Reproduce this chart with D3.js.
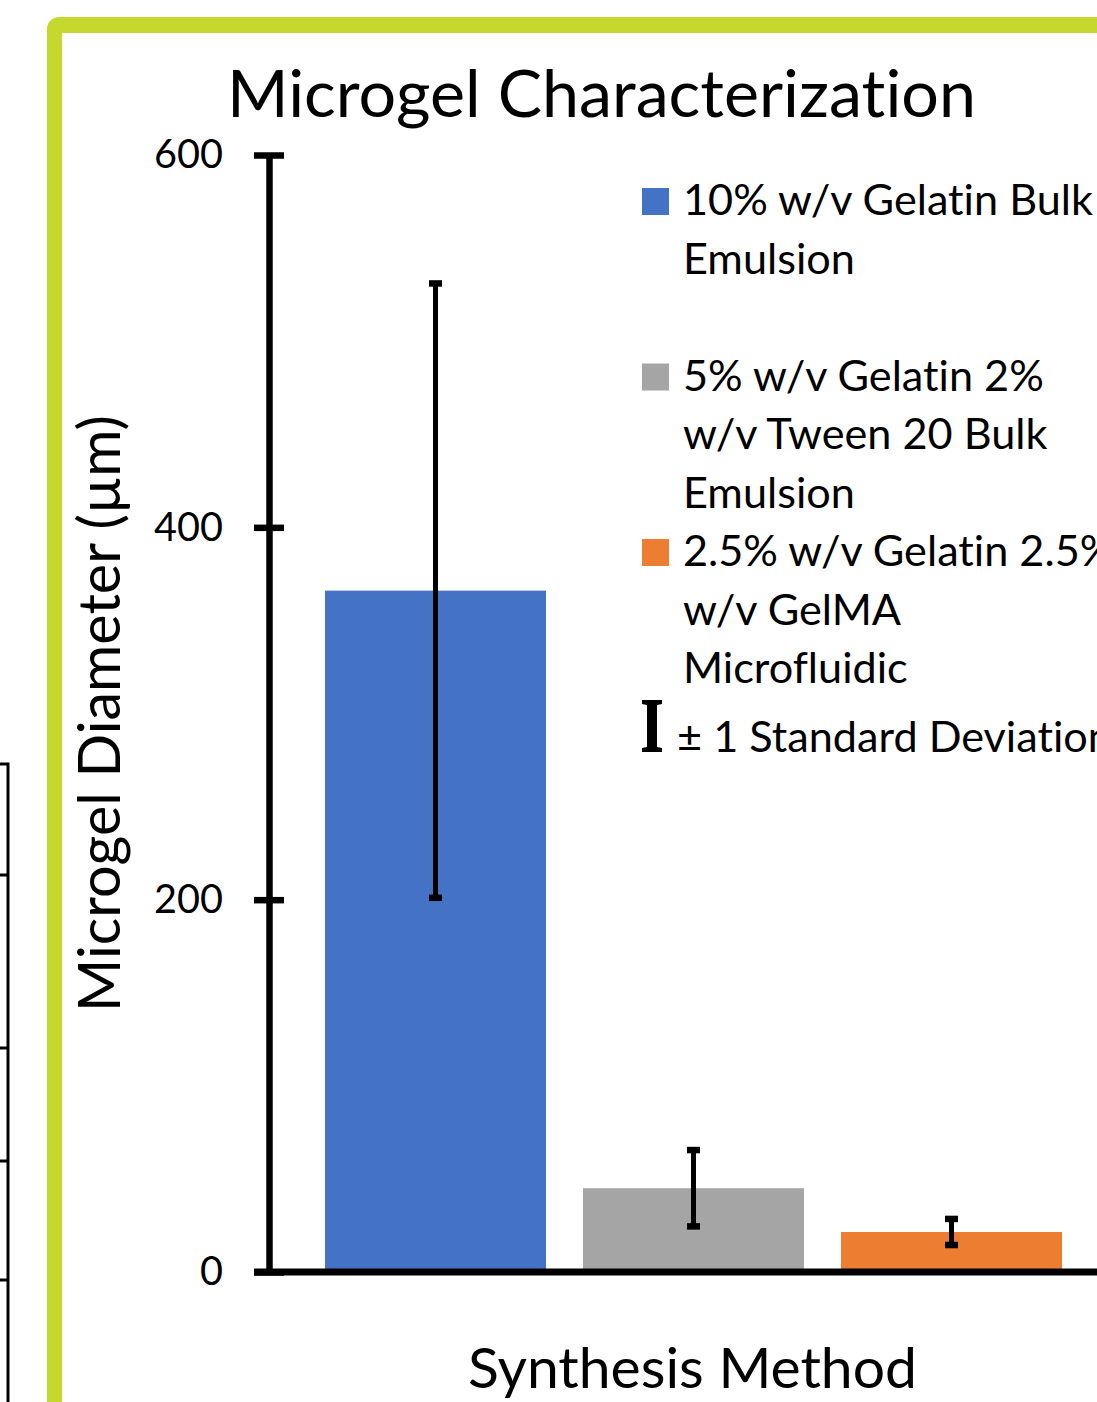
<!DOCTYPE html>
<html>
<head>
<meta charset="utf-8">
<script src="https://cdn.jsdelivr.net/npm/d3@7"></script>
<style>
  html, body { margin: 0; padding: 0; background: #ffffff; }
  svg { display: block; }
  text { font-family: Lato, "Open Sans", "Noto Sans", sans-serif; fill: #000;
         font-variant-ligatures: none; font-feature-settings: "liga" 0, "clig" 0; }
</style>
</head>
<body>
<svg id="chart" width="1097" height="1402"></svg>
<script>
// ---------------- data ----------------
const categories = [
  "10% w/v Gelatin Bulk Emulsion",
  "5% w/v Gelatin 2% w/v Tween 20 Bulk Emulsion",
  "2.5% w/v Gelatin 2.5% w/v GelMA Microfluidic"
];
const legendLines = [
  ["10% w/v Gelatin Bulk", "Emulsion"],
  ["5% w/v Gelatin 2%", "w/v Tween 20 Bulk", "Emulsion"],
  ["2.5% w/v Gelatin 2.5%", "w/v GelMA", "Microfluidic"]
];
const meanDiameter = [366, 45, 21.5];
const stdDeviation = [165, 20.5, 7];
const barColors = ["#4472C4", "#A5A5A5", "#ED7D31"];
const yTicks = [0, 200, 400, 600];
const titleText = "Microgel Characterization";
const yTitleText = "Microgel Diameter (\u00B5m)";
const xTitleText = "Synthesis Method";
const errorLegendText = "\u00B1 1 Standard Deviation";

// ---------------- layout ----------------
const W = 1097, H = 1402;
const svg = d3.select("#chart");
const green = "#C4D82E";

function fit(sel, target) {
  const w = sel.node().getComputedTextLength();
  const fs = parseFloat(sel.attr("font-size"));
  const nf = fs * target / w;
  sel.attr("font-size", nf);
  return nf;
}

// neighbouring panel fragment at the far left
const frag = svg.append("g").attr("stroke", "#000").attr("fill", "none");
frag.append("path").attr("d", "M0,764H8V1402").attr("stroke-width", 3);
[875, 1048, 1161, 1280].forEach(yy =>
  frag.append("line").attr("x1", 0).attr("x2", 8).attr("y1", yy).attr("y2", yy).attr("stroke-width", 3));

// green frame
svg.append("rect").attr("x", 47).attr("y", 17).attr("width", 1300).attr("height", 1600)
  .attr("rx", 12).attr("fill", green);
svg.append("rect").attr("x", 62).attr("y", 33).attr("width", 1300).attr("height", 1600)
  .attr("fill", "#ffffff");

// scales
const y = d3.scaleLinear().domain([0, 600]).range([1272, 155]);
const x = d3.scaleBand().domain(categories).range([306.5, 1080.5])
  .paddingInner(0.1434).paddingOuter(0.0717);
const axisX = 269;

// bars
svg.append("g").selectAll("rect").data(categories).join("rect")
  .attr("x", d => x(d))
  .attr("width", x.bandwidth())
  .attr("y", (d, i) => y(meanDiameter[i]))
  .attr("height", (d, i) => y(0) - y(meanDiameter[i]))
  .attr("fill", (d, i) => barColors[i]);

// error bars
const eg = svg.append("g").attr("stroke", "#000");
categories.forEach((c, i) => {
  const cx = x(c) + x.bandwidth() / 2;
  const hi = y(meanDiameter[i] + stdDeviation[i]);
  const lo = y(meanDiameter[i] - stdDeviation[i]);
  eg.append("line").attr("x1", cx).attr("x2", cx).attr("y1", hi).attr("y2", lo).attr("stroke-width", 5);
  [hi, lo].forEach(v => eg.append("line").attr("x1", cx - 6.5).attr("x2", cx + 6.5)
    .attr("y1", v).attr("y2", v).attr("stroke-width", 6.5));
});

// x axis line
svg.append("line").attr("x1", axisX - 15).attr("x2", W + 5)
  .attr("y1", y(0)).attr("y2", y(0)).attr("stroke", "#000").attr("stroke-width", 7);

// y axis
const yAxis = svg.append("g").attr("transform", `translate(${axisX},0)`)
  .call(d3.axisLeft(y).tickValues(yTicks).tickFormat(d3.format("d"))
    .tickSizeInner(15).tickSizeOuter(0).tickPadding(31));
yAxis.select(".domain").attr("stroke", "#000").attr("stroke-width", 6.5);
yAxis.selectAll(".tick line").attr("x1", 15).attr("stroke", "#000").attr("stroke-width", 6.5);
const tickTexts = yAxis.selectAll(".tick text").attr("font-family", null).attr("fill", "#000")
  .attr("font-size", 40);
yAxis.attr("font-family", null).attr("font-size", null);
const t600 = tickTexts.filter(d => d === 600);
const tickFs = fit(t600, 69);
tickTexts.attr("font-size", tickFs);

// title
const title = svg.append("text").attr("x", 601.5).attr("y", 117)
  .attr("text-anchor", "middle").attr("font-size", 70).text(titleText);
fit(title, 749);

// y title
const yTitle = svg.append("text").attr("transform", "translate(120,713.5) rotate(-90)")
  .attr("text-anchor", "middle").attr("font-size", 60).text(yTitleText);
fit(yTitle, 597);

// x title
const xTitle = svg.append("text").attr("x", 692.5).attr("y", 1388)
  .attr("text-anchor", "middle").attr("font-size", 66).text(xTitleText);
fit(xTitle, 449);

// legend
const lg = svg.append("g");
const probe = lg.append("text").attr("x", 683).attr("y", 215).attr("font-size", 40).text(legendLines[0][0]);
const legFs = fit(probe, 410);
probe.remove();
const lineH = 58.7;
legendLines.forEach((lines, i) => {
  const base = 215 + i * 175.5;
  lg.append("rect").attr("x", 642).attr("y", base - 27).attr("width", 27).attr("height", 27)
    .attr("fill", barColors[i]);
  lines.forEach((ln, j) => {
    lg.append("text").attr("x", 683).attr("y", base + j * lineH).attr("font-size", legFs).text(ln);
  });
});
// error-bar legend symbol
const eb = 752;
lg.append("path").attr("fill", "#000").attr("d",
  `M642,${eb - 52}H662V${eb - 48}L657,${eb - 47}V${eb - 5}L662,${eb - 4}V${eb}H642V${eb - 4}L647,${eb - 5}V${eb - 47}L642,${eb - 48}Z`);
lg.append("text").attr("x", 677).attr("y", eb).attr("font-size", legFs).text(errorLegendText);
</script>
</body>
</html>
